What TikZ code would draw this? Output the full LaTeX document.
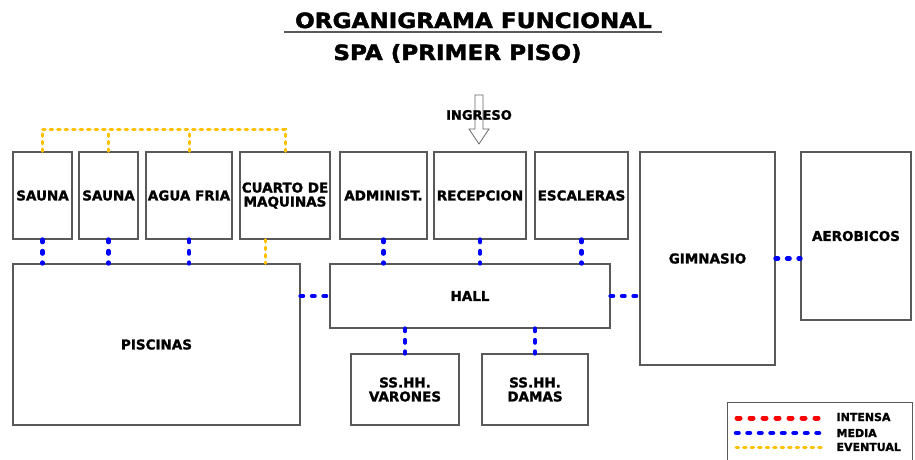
\documentclass[tikz,border=0pt]{standalone}
\usepackage{fontspec}
\setmainfont{DejaVu Sans}[BoldFeatures={FakeBold=1.5}]
\newfontfamily\titlefont{DejaVu Sans}[FakeStretch=1.1, BoldFeatures={FakeBold=2}]
\usepackage{tikz}
\usetikzlibrary{calc}

\definecolor{amarillo}{RGB}{255,192,0}
\newcommand{\boxfont}{\bfseries\fontsize{13.5}{14}\selectfont}

\tikzset{
  area/.style={draw=black!65, line width=1.1pt, fill=white, inner sep=1pt,
    align=center, font=\boxfont},
  intensa/.style={red, line width=5pt, line cap=round, dash pattern=on 3pt off 10pt},
  media/.style={blue, line width=4.5pt, line cap=round, dash pattern=on 2.5pt off 9pt},
  eventual/.style={amarillo, line width=3pt, line cap=round, dash pattern=on 2.5pt off 5pt}
}

\begin{document}
\begin{tikzpicture}[x=1pt,y=-1pt]
\useasboundingbox (0,0) rectangle (915,459);

% title
\node[font=\titlefont\bfseries\fontsize{21}{24}\selectfont, anchor=base] (titulo) at (473.5,28) {ORGANIGRAMA FUNCIONAL};
\draw[black!65, line width=1.2pt] (284,32) -- (662,32);
\node[font=\titlefont\bfseries\fontsize{21}{24}\selectfont, anchor=base] (subtitulo) at (457.5,60) {SPA (PRIMER PISO)};

% ingreso
\draw[black!60, line width=0.8pt, fill=white] (475,95) -- (483,95) -- (483,129) -- (489,129)
  -- (479,144) -- (469,129) -- (475,129) -- cycle;
\node[font=\bfseries\fontsize{13}{14}\selectfont] (ingreso) at (479,115) {INGRESO};

% areas
\node[area, minimum width=59, minimum height=87] (sauna1) at (42.5,195.5) {SAUNA};
\node[area, minimum width=59, minimum height=87] (sauna2) at (108.5,195.5) {SAUNA};
\node[area, minimum width=86, minimum height=87] (agua) at (189,195.5) {AGUA FRIA};
\node[area, minimum width=90, minimum height=87] (cuarto) at (285,195.5) {CUARTO DE\\MAQUINAS};
\node[area, minimum width=87, minimum height=87] (admin) at (383.5,195.5) {ADMINIST.};
\node[area, minimum width=92, minimum height=87] (recepcion) at (480,195.5) {RECEPCION};
\node[area, minimum width=93, minimum height=87] (escaleras) at (581.5,195.5) {ESCALERAS};
\node[area, minimum width=135, minimum height=213] (gimnasio) at (707.5,258.5) {GIMNASIO};
\node[area, minimum width=110, minimum height=168] (aerobicos) at (856,236) {AEROBICOS};
\node[area, minimum width=287, minimum height=161] (piscinas) at (156.5,344.5) {PISCINAS};
\node[area, minimum width=280, minimum height=64] (hall) at (470,296) {HALL};
\node[area, minimum width=108, minimum height=71] (varones) at (405,389.5) {SS.HH.\\VARONES};
\node[area, minimum width=106, minimum height=71] (damas) at (535,389.5) {SS.HH.\\DAMAS};

% eventual (top)
\coordinate (tope) at (0,129);
\draw[eventual] (sauna1.north) |- (tope -| cuarto.north) -- (cuarto.north);
\draw[eventual] (sauna2.north) -- (sauna2.north |- tope);
\draw[eventual] (agua.north) -- (agua.north |- tope);
\coordinate (cuartoabajo) at ($(cuarto.south west)!0.29!(cuarto.south east)$);
\draw[eventual] (cuartoabajo) -- (cuartoabajo |- piscinas.north);

% media
\foreach \n in {sauna1,sauna2,agua}
  \draw[media] (\n.south) -- (\n.south |- piscinas.north);
\foreach \n in {admin,recepcion,escaleras}
  \draw[media] (\n.south) -- (\n.south |- hall.north);
\foreach \n in {varones,damas}
  \draw[media] (hall.south -| \n.north) -- (\n.north);
\draw[media] (hall.west -| piscinas.east) -- (hall.west);
\draw[media] (hall.east) -- (hall.east -| gimnasio.west);
\draw[media] (gimnasio.east) -- (gimnasio.east -| aerobicos.west);

% legend
\node[draw=black!65, line width=1.1pt, minimum width=185, minimum height=62, anchor=north west] (leyenda) at (727,402) {};
\draw[intensa] (737,418) -- (823,418);
\draw[media] (736,433) -- (824,433);
\draw[eventual] (736,447) -- (824,447);
\node[font=\bfseries\fontsize{11}{12}\selectfont, anchor=west] (l1) at (833,417) {INTENSA};
\node[font=\bfseries\fontsize{11}{12}\selectfont, anchor=west] (l2) at (833,433) {MEDIA};
\node[font=\bfseries\fontsize{11}{12}\selectfont, anchor=west] (l3) at (833,447) {EVENTUAL};
\end{tikzpicture}
\end{document}
